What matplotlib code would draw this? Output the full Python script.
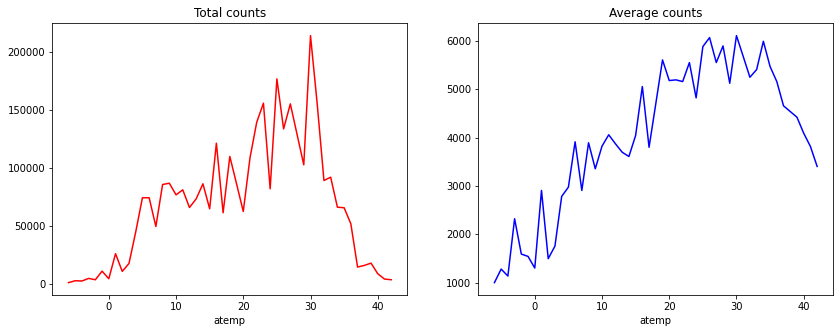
import numpy as np
import matplotlib
matplotlib.use('Agg')
import matplotlib.pyplot as plt

# atemp values (rounded) on the x axis
atemp = list(range(-6, 43))

# total rentals per atemp value
total_counts = [1500, 3150, 2900, 5150, 4000, 11400, 4850, 26400, 11200, 18000,
                45000, 74500, 74500, 49800, 85900, 87000, 77000, 81300, 66100, 73600,
                86500, 65000, 121400, 61600, 110000, 86500, 62700, 108800, 139400, 155800,
                82200, 176700, 133700, 155200, 129000, 102800, 213900, 155000, 89300, 92200,
                66400, 65900, 52100, 14900, 16300, 18300, 9200, 4600, 4000]

# mean rentals per atemp value
average_counts = [1000, 1281, 1137, 2322, 1591, 1543, 1302, 2907, 1496, 1756,
                  2783, 2975, 3913, 2907, 3893, 3355, 3823, 4058, 3872, 3698,
                  3609, 4043, 5056, 3800, 4700, 5607, 5180, 5194, 5159, 5552,
                  4822, 5882, 6068, 5552, 5896, 5124, 6109, 5680, 5248, 5407,
                  5992, 5469, 5159, 4657, 4539, 4421, 4091, 3817, 3404]

fig = plt.figure(figsize=(840/72, 333/72), dpi=72)
ax1 = fig.add_axes([0.0623, 0.1141, 0.4226, 0.816])
ax2 = fig.add_axes([0.5694, 0.1141, 0.4226, 0.816])

ax1.plot(atemp, total_counts, color='r')
ax1.set_title('Total counts')
ax1.set_xlabel('atemp')

ax2.plot(atemp, average_counts, color='b')
ax2.set_title('Average counts')
ax2.set_xlabel('atemp')

plt.savefig('out.png', dpi=72)
